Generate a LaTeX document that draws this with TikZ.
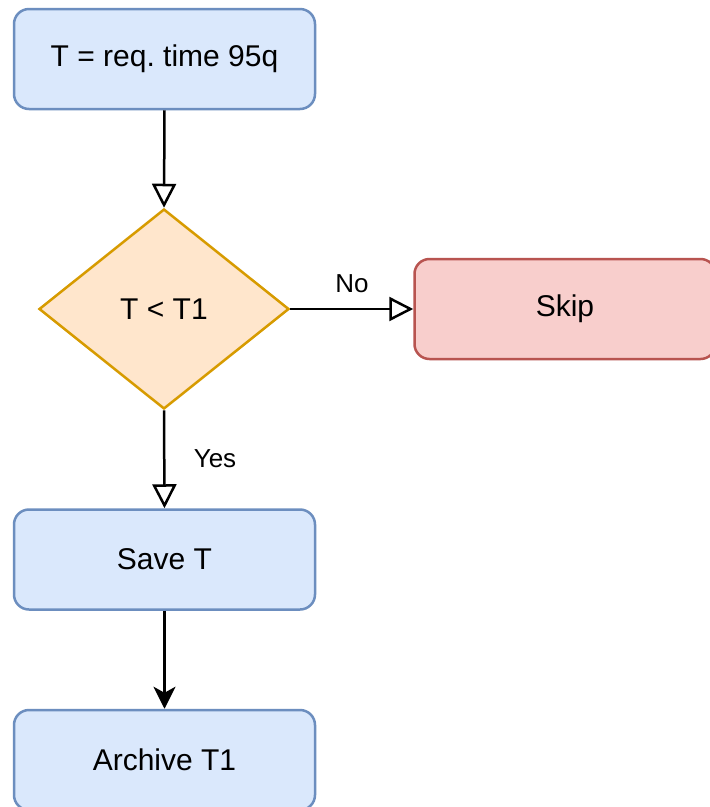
\documentclass[tikz,border=0pt]{standalone}
\usepackage{fontspec}
\setmainfont{Liberation Sans}
\frenchspacing
\usetikzlibrary{arrows.meta,shapes.geometric}
\definecolor{bluefill}{HTML}{DAE8FC}
\definecolor{bluedraw}{HTML}{6C8EBF}
\definecolor{orangefill}{HTML}{FFE6CC}
\definecolor{orangedraw}{HTML}{D79B00}
\definecolor{redfill}{HTML}{F8CECC}
\definecolor{reddraw}{HTML}{B85450}
\tikzset{
  box/.style={rectangle, rounded corners=15pt, line width=2.5pt,
    minimum width=301pt, minimum height=100pt, inner sep=0pt,
    font=\fontsize{30}{36}\selectfont},
  bluebox/.style={box, fill=bluefill, draw=bluedraw},
  redbox/.style={box, fill=redfill, draw=reddraw},
  decision/.style={diamond, aspect=1.25, minimum width=250pt, minimum height=200pt,
    inner sep=0pt, line width=2.5pt, fill=orangefill, draw=orangedraw,
    font=\fontsize{30}{36}\selectfont},
  openarrow/.style={line width=2.5pt, -{Triangle[open, length=24pt, width=24pt, fill=white]}},
  fullarrow/.style={line width=2.5pt, -{Stealth[length=22pt, width=22pt, inset=6pt]}},
  edgelabel/.style={font=\fontsize{26}{31}\selectfont}
}
\begin{document}
\begin{tikzpicture}[x=1pt, y=-1pt]
  \useasboundingbox (0,0) rectangle (710,807);
  \clip (0,0) rectangle (710,807);
  \fill[white] (0,0) rectangle (710,807);

  \node[bluebox] (req) at (164.5,59) {T = req. time 95q};
  \node[decision] (cmp) at (164,309) {T < T1};
  \node[redbox] (skip) at (565,309) {Skip};
  \node[bluebox] (save) at (164.5,559.5) {Save T};
  \node[bluebox] (arch) at (164.5,760) {Archive T1};

  \draw[openarrow] (req.south) -- (cmp.north);
  \draw[openarrow] (cmp.east) -- (skip.west);
  \draw[openarrow] (cmp.south) -- (save.north);
  \draw[fullarrow] (save.south) -- (arch.north);

  \node[edgelabel] (nolabel) at (352,284) {No};
  \node[edgelabel] (yeslabel) at (215,459) {Yes};
\end{tikzpicture}
\end{document}
